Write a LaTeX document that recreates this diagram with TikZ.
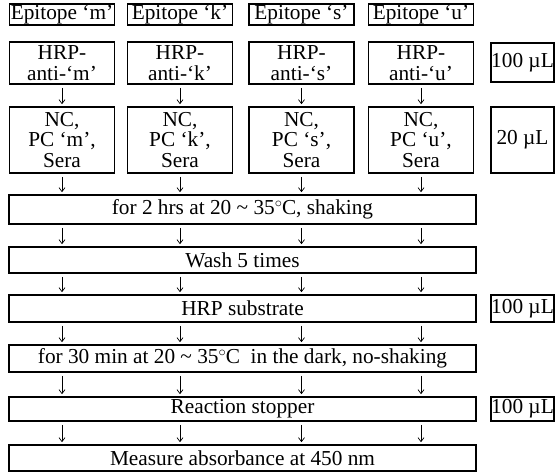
\documentclass[tikz,border=0pt]{standalone}
\usepackage{fontspec}
\setmainfont{Liberation Serif}
\usetikzlibrary{arrows.meta}
\newcommand{\degC}{\ensuremath{{}^{\circ}}\kern-0.5pt C}
\begin{document}
\begin{tikzpicture}[x=1pt,y=-1pt,
 box/.style={draw, line width=1.6pt, inner sep=0pt, align=center, font=\fontsize{21.3}{20.5}\selectfont},
 col/.style={box, minimum width=105pt},
 wide/.style={box, minimum width=467pt},
 side/.style={box, minimum width=63pt},
 arr/.style={line width=0.7pt, -{Straight Barb[length=4pt,width=6pt]}, shorten <=3pt, shorten >=2pt}]
\useasboundingbox (0,0) rectangle (555,475);
% column x centres
\foreach \c/\x/\l in {1/62/m,2/180/k,3/301.5/s,4/421/u}{
  \node[col, minimum height=21pt] (e\c) at (\x,14.5) {Epitope ‘\l’};
  \node[col, minimum height=42pt] (h\c) at (\x,63) {HRP-\\anti-‘\l’};
  \node[col, minimum height=66pt] (n\c) at (\x,140) {NC,\\PC ‘\l’,\\Sera};
}
\node[side, minimum height=39pt] (s1) at (522.5,62.5) {100 µL};
\node[side, minimum height=66pt] (s2) at (522.5,140) {20 µL};
\node[wide, minimum height=29pt] (t1) at (242.5,209.5) {for 2 hrs at 20 \textasciitilde\ 35\degC, shaking};
\node[wide, minimum height=26pt] (t2) at (242.5,260) {Wash 5 times};
\node[wide, minimum height=27pt] (t3) at (242.5,308.5) {HRP substrate};
\node[side, minimum height=27pt] (s3) at (522.5,308.5) {100 µL};
\node[wide, minimum height=27pt] (t4) at (242.5,358.5) {for 30 min at 20 \textasciitilde\ 35\degC\ \ in the dark, no-shaking};
\node[wide, minimum height=24pt] (t5) at (242.5,409) {Reaction stopper};
\node[side, minimum height=24pt] (s4) at (522.5,409) {100 µL};
\node[wide, minimum height=26pt] (t6) at (242.5,458) {Measure absorbance at 450 nm};
\foreach \c in {1,2,3,4}{
  \draw[arr] (h\c) -- (n\c);
  \draw[arr] (n\c) -- (n\c |- t1.north);
  \draw[arr] (n\c |- t1.south) -- (n\c |- t2.north);
  \draw[arr] (n\c |- t2.south) -- (n\c |- t3.north);
  \draw[arr] (n\c |- t3.south) -- (n\c |- t4.north);
  \draw[arr] (n\c |- t4.south) -- (n\c |- t5.north);
  \draw[arr] (n\c |- t5.south) -- (n\c |- t6.north);
}
\end{tikzpicture}
\end{document}
